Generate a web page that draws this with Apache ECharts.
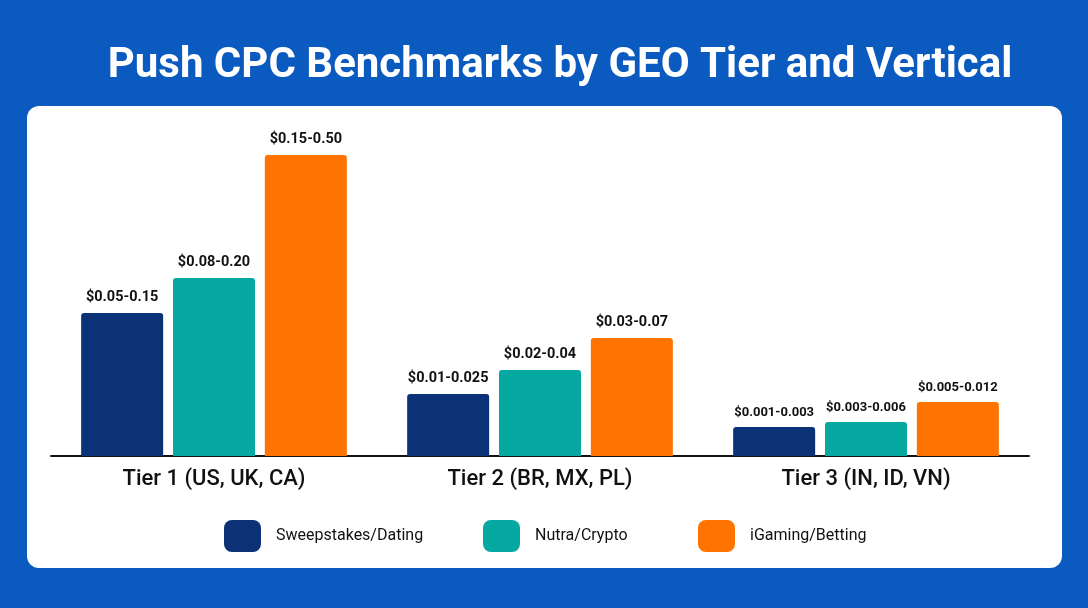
<!DOCTYPE html>
<html>
<head>
<meta charset="utf-8">
<title>Push CPC Benchmarks</title>
<script src="https://cdn.jsdelivr.net/npm/echarts@6/dist/echarts.min.js"></script>
<style>
  html, body { margin: 0; padding: 0; background: #0a5abf; }
  #chart { width: 1088px; height: 608px; }
</style>
</head>
<body>
<div id="chart"></div>
<script>
  // GEO tiers on the x axis
  var tiers = ['Tier 1 (US, UK, CA)', 'Tier 2 (BR, MX, PL)', 'Tier 3 (IN, ID, VN)'];
  var verticals = ['Sweepstakes/Dating', 'Nutra/Crypto', 'iGaming/Betting'];

  // bar heights as drawn (relative scale)
  var sweepHeight = [143, 62, 29];
  var nutraHeight = [178, 86, 34];
  var igamingHeight = [301, 118, 54];

  // CPC range labels shown over the bars
  var sweepLabels = ['$0.05-0.15', '$0.01-0.025', '$0.001-0.003'];
  var nutraLabels = ['$0.08-0.20', '$0.02-0.04', '$0.003-0.006'];
  var igamingLabels = ['$0.15-0.50', '$0.03-0.07', '$0.005-0.012'];

  var colors = ['#0b3277', '#06a8a2', '#ff7300'];
  var font = 'Roboto, "Noto Sans", sans-serif';

  function makeSeries(name, heights, labels, color) {
    var data = [];
    for (var i = 0; i < heights.length; i++) {
      data.push({
        value: heights[i],
        label: { formatter: labels[i], fontSize: i == 2 ? 13 : 14.5 }
      });
    }
    return {
      name: name,
      type: 'bar',
      barWidth: 82,
      barGap: '12%',
      itemStyle: { color: color, borderRadius: [3, 3, 0, 0] },
      label: {
        show: true,
        position: 'top',
        distance: 8,
        color: '#111',
        fontWeight: 'bold',
        fontFamily: font
      },
      data: data
    };
  }

  function makeLegend(name, left) {
    return {
      data: [name],
      left: left,
      top: 515,
      icon: 'roundRect',
      itemWidth: 37,
      itemHeight: 32,
      textStyle: { fontSize: 16, color: '#111', fontFamily: font, padding: [0, 0, 0, 10] }
    };
  }

  var myChart = echarts.init(document.getElementById('chart'));
  myChart.setOption({
    backgroundColor: '#0a5abf',
    animation: false,
    color: colors,
    title: {
      text: 'Push CPC Benchmarks by GEO Tier and Vertical',
      left: 555,
      textAlign: 'center',
      top: 40,
      textStyle: { color: '#fff', fontSize: 42, fontWeight: 'bold', fontFamily: font }
    },
    graphic: [{
      type: 'rect',
      z: -10,
      shape: { x: 27, y: 106, width: 1035, height: 462, r: 12 },
      style: { fill: '#fff' }
    }],
    legend: [
      makeLegend(verticals[0], 219),
      makeLegend(verticals[1], 478),
      makeLegend(verticals[2], 693)
    ],
    grid: { left: 51, right: 59, top: 136, bottom: 152 },
    xAxis: {
      type: 'category',
      data: tiers,
      axisLine: { lineStyle: { color: '#111', width: 2 } },
      axisTick: { show: false },
      axisLabel: { fontSize: 22, color: '#111', fontWeight: 500, fontFamily: font, margin: 12 }
    },
    yAxis: {
      type: 'value',
      min: 0,
      max: 320,
      show: false,
      splitLine: { show: false }
    },
    series: [
      makeSeries(verticals[0], sweepHeight, sweepLabels, colors[0]),
      makeSeries(verticals[1], nutraHeight, nutraLabels, colors[1]),
      makeSeries(verticals[2], igamingHeight, igamingLabels, colors[2])
    ]
  });
</script>
</body>
</html>
